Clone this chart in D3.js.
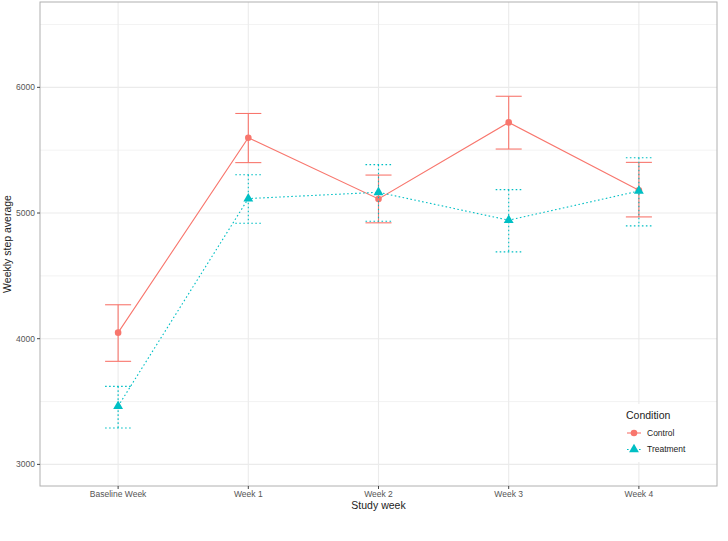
<!DOCTYPE html>
<html><head><meta charset="utf-8">
<script src="https://cdn.jsdelivr.net/npm/d3@7"></script>
<style>body{margin:0;background:#fff;}text{font-family:"Liberation Sans",Arial,sans-serif;}</style>
</head><body>
<svg id="c" width="728" height="541"></svg>
<script>
const weeks = ["Baseline Week","Week 1","Week 2","Week 3","Week 4"];
const controlMean = [4048, 5599, 5112, 5721, 5181];
const controlLow  = [3820, 5401, 4922, 5509, 4969];
const controlHigh = [4270, 5792, 5302, 5929, 5403];
const treatMean = [3463, 5115, 5165, 4943, 5175];
const treatLow  = [3290, 4919, 4935, 4691, 4898];
const treatHigh = [3621, 5305, 5385, 5186, 5440];
const yTicks = [3000, 4000, 5000, 6000];
const yMinor = [3500, 4500, 5500, 6500];
const conditions = ["Control","Treatment"];
const colors = ["#F8766D","#00BFC4"];

const svg = d3.select("#c");
const L = 40, R = 717, T = 2, B = 486;
const x = d3.scalePoint().domain(weeks).range([L, R]).padding(0.6);
const y = d3.scaleLinear().domain([2828, 6679]).range([B, T]);
const step = x.step();

// grid
const g = svg.append("g");
g.selectAll(".mn").data(yMinor).join("line")
 .attr("x1",L).attr("x2",R).attr("y1",d=>y(d)).attr("y2",d=>y(d))
 .attr("stroke","#EBEBEB").attr("stroke-width",0.6);
g.selectAll(".mj").data(yTicks).join("line")
 .attr("x1",L).attr("x2",R).attr("y1",d=>y(d)).attr("y2",d=>y(d))
 .attr("stroke","#EBEBEB").attr("stroke-width",1.1);
g.selectAll(".vx").data(weeks).join("line")
 .attr("x1",d=>x(d)).attr("x2",d=>x(d)).attr("y1",T).attr("y2",B)
 .attr("stroke","#EBEBEB").attr("stroke-width",1.1);

const series = [
  {name: conditions[0], mean: controlMean, lo: controlLow, hi: controlHigh, color: colors[0], dash: null},
  {name: conditions[1], mean: treatMean, lo: treatLow, hi: treatHigh, color: colors[1], dash: "1.6,2.4"}
];
const line = d3.line().x((d,i)=>x(weeks[i])).y(d=>y(d));

series.forEach((s, si) => {
  const sg = svg.append("g");
  // error bars
  weeks.forEach((w,i)=>{
    const cx = x(w), hw = step*0.1;
    const parts = [[cx-hw,y(s.hi[i]),cx+hw,y(s.hi[i])],[cx-hw,y(s.lo[i]),cx+hw,y(s.lo[i])],[cx,y(s.hi[i]),cx,y(s.lo[i])]];
    parts.forEach(p=>sg.append("line").attr("x1",p[0]).attr("y1",p[1]).attr("x2",p[2]).attr("y2",p[3])
      .attr("stroke",s.color).attr("stroke-width",1.1).attr("stroke-dasharray",s.dash));
  });
  sg.append("path").datum(s.mean).attr("d",line).attr("fill","none")
    .attr("stroke",s.color).attr("stroke-width",1.1).attr("stroke-dasharray",s.dash);
  if (si===0) {
    sg.selectAll("circle").data(s.mean).join("circle")
      .attr("cx",(d,i)=>x(weeks[i])).attr("cy",d=>y(d)).attr("r",3.3).attr("fill",s.color);
  } else {
    sg.selectAll("path.pt").data(s.mean).join("path").attr("class","pt")
      .attr("transform",(d,i)=>`translate(${x(weeks[i])},${y(d)})`)
      .attr("d",d3.symbol(d3.symbolTriangle,42)()).attr("fill",s.color);
  }
});

// panel border
svg.append("rect").attr("x",L).attr("y",T).attr("width",R-L).attr("height",B-T)
 .attr("fill","none").attr("stroke","#B0B0B0").attr("stroke-width",1);

// y axis
const ya = svg.append("g");
yTicks.forEach(t=>{
  ya.append("line").attr("x1",L-3).attr("x2",L).attr("y1",y(t)).attr("y2",y(t)).attr("stroke","#444").attr("stroke-width",1);
  ya.append("text").attr("x",L-5).attr("y",y(t)).attr("dy","0.35em").attr("text-anchor","end")
    .attr("font-size",8.5).attr("fill","#555").text(t);
});
// x axis
weeks.forEach(w=>{
  svg.append("line").attr("x1",x(w)).attr("x2",x(w)).attr("y1",B).attr("y2",B+3).attr("stroke","#444");
  svg.append("text").attr("x",x(w)).attr("y",B+11).attr("text-anchor","middle")
    .attr("font-size",8.5).attr("fill","#555").text(w);
});
svg.append("text").attr("x",(L+R)/2).attr("y",509).attr("text-anchor","middle")
  .attr("font-size",10.5).attr("fill","#222").text("Study week");
svg.append("text").attr("transform",`translate(11,${(T+B)/2}) rotate(-90)`).attr("text-anchor","middle")
  .attr("font-size",10.5).attr("fill","#222").text("Weekly step average");

// legend
const lg = svg.append("g");
lg.append("rect").attr("x",622).attr("y",404).attr("width",90).attr("height",58).attr("fill","#fff");
lg.append("text").attr("x",626).attr("y",419).attr("font-size",10.5).attr("fill","#222").text("Condition");
series.forEach((s,i)=>{
  const ly = 433 + i*16.5;
  lg.append("line").attr("x1",627).attr("x2",641).attr("y1",ly).attr("y2",ly)
    .attr("stroke",s.color).attr("stroke-width",1.1).attr("stroke-dasharray",s.dash);
  if (i===0) lg.append("circle").attr("cx",634).attr("cy",ly).attr("r",3.3).attr("fill",s.color);
  else lg.append("path").attr("transform",`translate(634,${ly})`).attr("d",d3.symbol(d3.symbolTriangle,42)()).attr("fill",s.color);
  lg.append("text").attr("x",647).attr("y",ly).attr("dy","0.35em").attr("font-size",8.5).attr("fill","#222").text(s.name);
});
</script>
</body></html>
